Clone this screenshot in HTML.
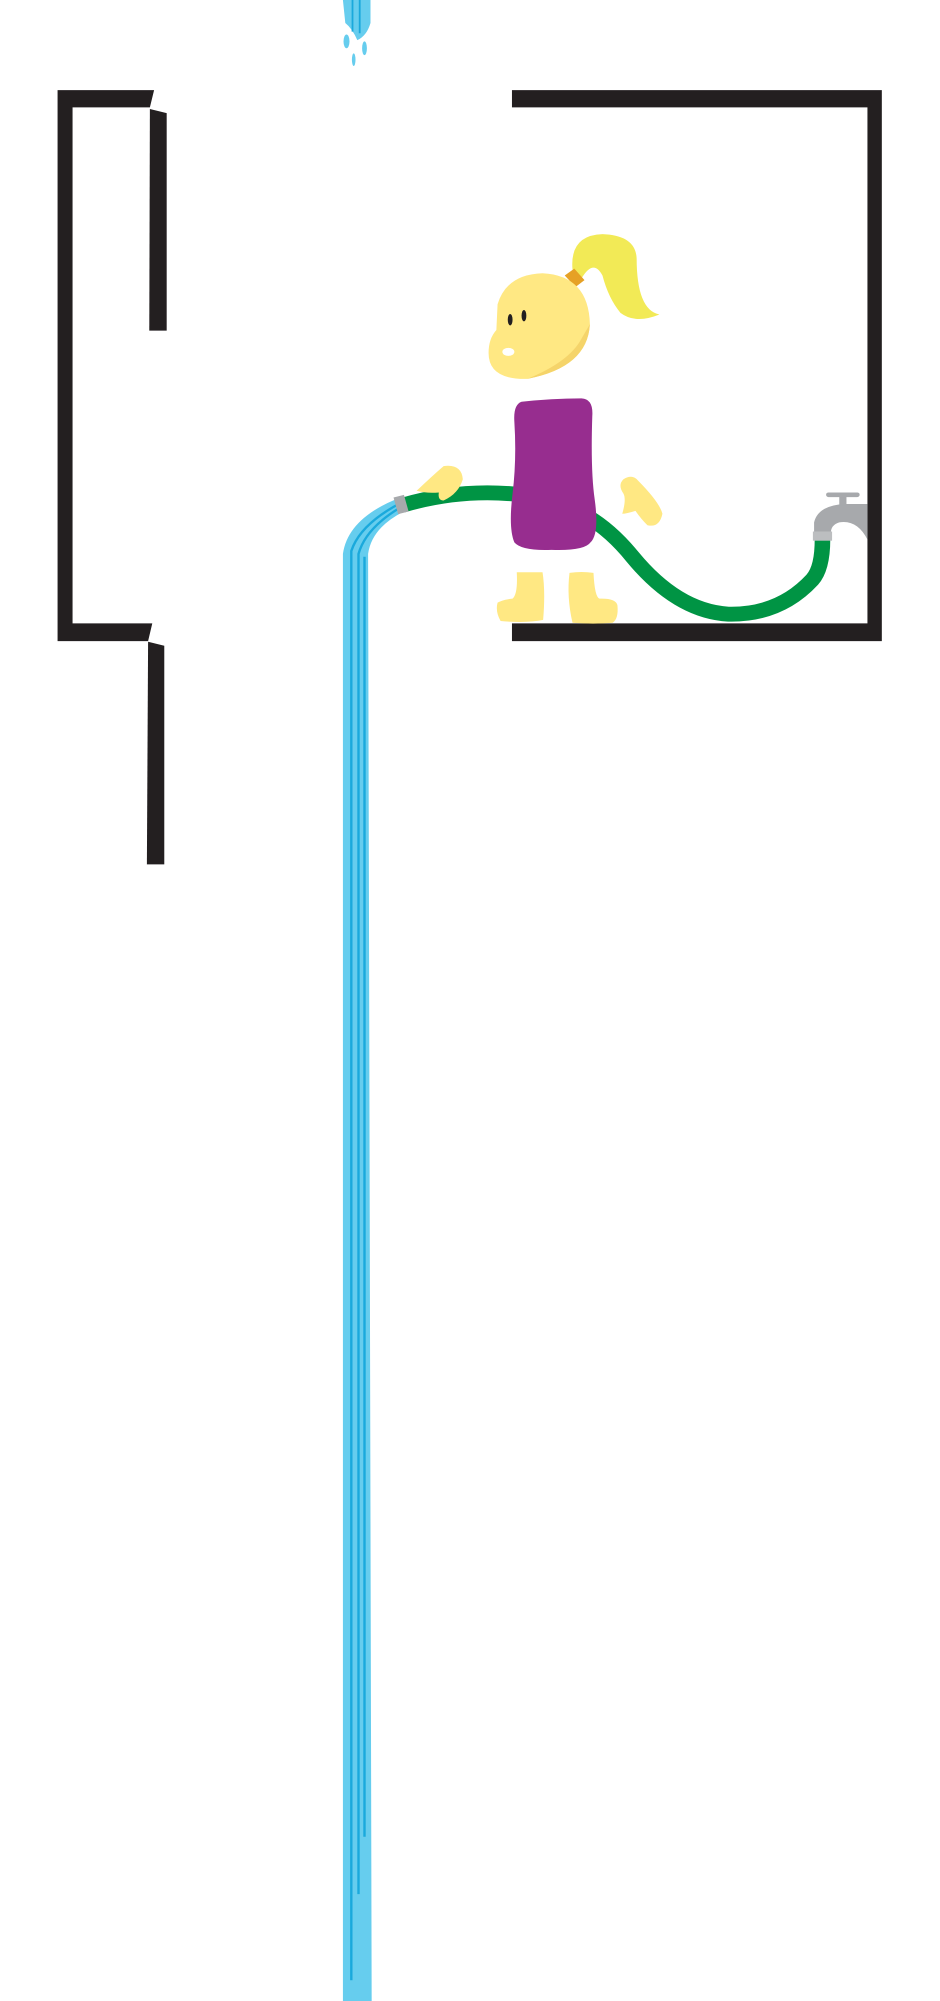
<!DOCTYPE html>
<html><head><style>html,body{margin:0;padding:0;background:#fff}svg{display:block}</style></head>
<body>
<svg width="940" height="2001" viewBox="0 0 1568 3338" xmlns="http://www.w3.org/2000/svg">
<g transform="scale(1,0.9575)">
<!-- left frame -->
<path d="M96,157 H257 L250,187 H121 V1086 H254 L247,1117 H96 Z" fill="#231f20"/>
<path d="M250,190 L278,197 V576 H249 Z" fill="#231f20"/>
<path d="M247,1118 L274,1125 V1506 H245 Z" fill="#231f20"/>
<!-- right frame -->
<path d="M854,157 H1471 V1117 H854 V1086 H1447 V187 H854 Z" fill="#231f20"/>
<!-- top drip -->
<path d="M572,0 H618 V40 Q612,62 596,70 Q588,50 576,40 Z" fill="#66cdee"/>
<path d="M588,0 V55 M600,0 V58" stroke="#1aa9dc" stroke-width="3"/>
<ellipse cx="578" cy="72" rx="5" ry="12" fill="#66cdee"/>
<ellipse cx="608" cy="84" rx="4" ry="12" fill="#66cdee"/>
<ellipse cx="590" cy="104" rx="3" ry="11" fill="#66cdee"/>
<!-- water stream -->
<path d="M572,3500 V965 Q580,905 660,870 L672,892 Q620,920 614,965 L620,3500 Z" fill="#66cdee"/>
<path d="M586,3450 V960 Q600,915 665,878 M598,3300 V965 Q610,920 668,884 M608,3200 V970" stroke="#1aa9dc" stroke-width="4" fill="none"/>
<!-- hose -->
<path d="M672,880 Q770,850 870,862" stroke="#009444" stroke-width="26" fill="none"/>
<path d="M980,900 Q1020,925 1055,970 Q1130,1065 1215,1070 Q1300,1072 1355,1010 Q1372,990 1372,940" stroke="#009444" stroke-width="26" fill="none"/>
<rect x="660" y="864" width="18" height="30" fill="#a7a9ac" transform="rotate(-15 669 879)"/>
<!-- faucet -->
<path d="M1358,930 V910 Q1365,880 1410,878 H1447 V940 Q1430,905 1400,910 Q1385,915 1386,930 Z" fill="#a7a9ac"/>
<rect x="1356" y="926" width="32" height="16" fill="#bcbec0"/>
<rect x="1400" y="860" width="12" height="20" fill="#a7a9ac"/>
<rect x="1378" y="858" width="56" height="8" rx="4" fill="#a7a9ac"/>
<!-- hair -->
<path d="M955,470 Q950,410 1005,408 Q1060,410 1062,450 Q1062,540 1100,548 Q1060,565 1035,545 Q1015,520 1005,480 Q990,450 970,485 Z" fill="#f2ea56"/>
<path d="M942,480 L958,468 L975,488 L960,500 Z" fill="#e6a125"/>
<!-- head -->
<path d="M830,530 Q845,478 905,476 Q982,480 984,565 Q980,640 880,660 Q815,662 815,615 Q815,590 828,575 Z" fill="#ffe883"/>
<path d="M984,565 Q980,640 880,660 Q950,630 970,590 Z" fill="#f5d46a"/>
<ellipse cx="851" cy="557" rx="4" ry="10" fill="#231f20"/>
<ellipse cx="874" cy="550" rx="4" ry="10" fill="#231f20"/>
<ellipse cx="848" cy="613" rx="10" ry="7" fill="#fff"/>
<!-- body -->
<path d="M870,700 Q920,694 970,694 Q990,695 988,725 Q985,820 992,870 Q1000,930 985,945 Q975,960 920,958 Q870,960 858,945 Q848,920 855,860 Q862,800 858,735 Q856,705 870,700 Z" fill="#972d8f"/>
<!-- hands -->
<path d="M695,855 Q720,830 740,812 Q770,808 772,835 Q765,860 740,872 Q730,872 732,858 Q712,860 695,855 Z" fill="#ffe883"/>
<path d="M1040,835 Q1055,825 1065,838 Q1100,875 1105,895 Q1100,920 1080,915 Q1070,905 1060,890 Q1045,895 1038,895 Q1045,870 1040,860 Q1030,845 1040,835 Z" fill="#ffe883"/>
<!-- boots -->
<path d="M862,997 H905 Q910,1030 906,1080 Q880,1086 835,1082 Q826,1065 830,1050 Q838,1045 855,1043 Q864,1035 862,997 Z" fill="#ffe883"/>
<path d="M950,998 Q970,995 990,998 Q992,1040 1000,1043 Q1028,1042 1030,1055 Q1032,1078 1022,1085 Q990,1088 955,1085 Q945,1040 950,998 Z" fill="#ffe883"/>
</g>
</svg>
</body></html>
